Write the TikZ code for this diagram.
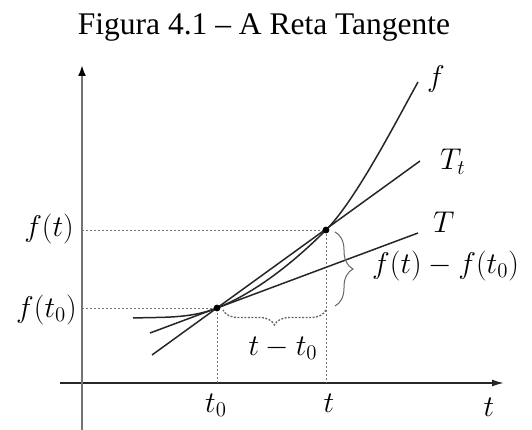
\documentclass[tikz,border=0pt]{standalone}
\usepackage[no-math]{fontspec}
\usepackage{graphicx}
\newfontfamily\titlefont{Liberation Serif}
\newcommand{\mlab}[1]{\scalebox{1.7361}{\LARGE$#1$}}
\usetikzlibrary{arrows.meta,decorations.pathreplacing}
\begin{document}
\begin{tikzpicture}[x=1pt,y=-1pt,
  mathlbl/.style={inner sep=0pt},
  dotline/.style={black!55, line width=1pt, dash pattern=on 1.5pt off 2.5pt},
  curveline/.style={black!85, line width=1.5pt},
  bracestyle/.style={black!60, line width=1pt, decorate, decoration={brace, amplitude=#1}},
  ptdot/.style={black}
 ]
\useasboundingbox (0,0) rectangle (532,430);

% title
\node[font=\titlefont\fontsize{31.5}{38}\selectfont, anchor=base, inner sep=0pt] (title) at (264,35) {Figura 4.1 – A Reta Tangente};

% key coordinates
\coordinate (P0) at (217,308);
\coordinate (P1) at (326,230);
\coordinate (yb) at (82,432);
\coordinate (yt) at (82,65);
\coordinate (xl) at (60,383);
\coordinate (xr) at (504,383);
\coordinate (Y0) at (82,308);
\coordinate (Y1) at (82,230);
\coordinate (X0) at (217,383);
\coordinate (X1) at (326,383);
\coordinate (Ta) at (150,333);
\coordinate (Tb) at (418,233);
\coordinate (Sa) at (152,355);
\coordinate (Sb) at (420,161);
\coordinate (Fa) at (133,318);
\coordinate (Fb) at (418,82);

% axes
\draw[black!85, line width=1.7pt, -{Latex[length=12pt,width=7pt]}] (xl) -- (xr);
\draw[black!55, line width=2.6pt, -{Latex[length=11pt,width=8pt,color=black]}] (yb) -- (yt);

% dotted guides
\draw[dotline] (Y1) -- (P1) -- (X1);
\draw[dotline] (Y0) -- (P0) -- (X0);

% lines T and T_t
\draw[curveline] (Ta) -- (Tb);
\draw[curveline] (Sa) -- (Sb);

% curve f
\draw[curveline] (Fa) .. controls (162,317) and (190,318.8) .. (P0)
  .. controls (253,293.6) and (290,266) .. (P1)
  .. controls (356,200) and (398,118) .. (Fb);

% points
\fill[ptdot] (P0) circle (3.4);
\fill[ptdot] (P1) circle (3.4);

% braces
\draw[bracestyle=18] (335,232) -- (335,306);
\draw[bracestyle=15, line width=1.3pt, dash pattern=on 2pt off 1.5pt] (326,310) -- (223,310);

% labels
\node[mathlbl, anchor=east] (lft) at (74,229) {\mlab{f(t)}};
\node[mathlbl, anchor=east] (lft0) at (77,310) {\mlab{f(t_0)}};
\node[mathlbl, anchor=base] (lt0) at (216,412) {\mlab{t_0}};
\node[mathlbl, anchor=base] (lt) at (329,412) {\mlab{t}};
\node[mathlbl, anchor=base] (lt2) at (489,416) {\mlab{t}};
\node[mathlbl, anchor=base] (ldt) at (283,355) {\mlab{t - t_0}};
\node[mathlbl, anchor=west] (ldf) at (372,266) {\mlab{f(t) - f(t_0)}};
\node[mathlbl, anchor=base west] (lT) at (433,233) {\mlab{T}};
\node[mathlbl, anchor=base west] (lTt) at (440,170) {\mlab{T_t}};
\node[mathlbl, anchor=base] (lf) at (436,87) {\mlab{f}};
\end{tikzpicture}
\end{document}
